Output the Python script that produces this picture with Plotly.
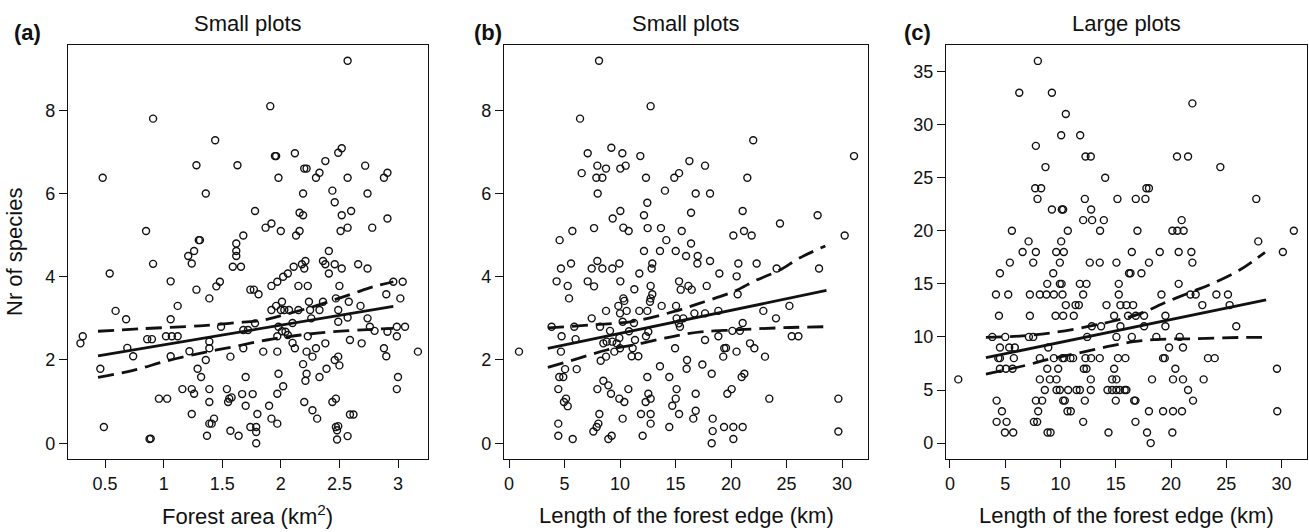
import plotly.graph_objects as go
from plotly.subplots import make_subplots

# panel (a): forest area vs species, small plots
area_x = [2.57, 1.91, 0.91, 1.44, 0.48, 1.28, 1.63, 1.95, 1.96, 2.12,
          2.20, 2.22, 1.98, 2.30, 2.33, 2.38, 2.49, 2.52, 2.57, 2.72,
          2.88, 2.91, 1.36, 2.19, 2.44, 2.46, 2.74, 1.78, 2.16, 2.19,
          2.52, 2.60, 2.91, 0.85, 1.87, 1.92, 2.00, 2.13, 2.16, 2.51,
          2.57, 2.78, 1.68, 1.30, 1.31, 1.62, 1.62, 1.62, 1.26, 1.21,
          0.91, 1.24, 1.59, 1.66, 2.11, 2.18, 2.21, 2.20, 2.36, 2.38,
          2.41, 2.46, 2.52, 2.66, 2.74, 0.54, 1.06, 1.48, 1.45, 1.39,
          1.28, 0.59, 0.68, 1.12, 1.06, 1.02, 1.07, 1.12, 0.29, 0.31,
          0.86, 0.90, 0.69, 0.74, 1.06, 0.46, 1.22, 1.39, 1.39, 1.36,
          1.29, 1.32, 1.49, 1.57, 1.68, 1.68, 1.72, 1.78, 1.74, 1.77,
          1.81, 1.92, 1.97, 2.02, 2.06, 2.15, 2.23, 2.41, 2.50, 2.96,
          3.04, 3.02, 2.90, 2.68, 2.47, 2.36, 2.24, 2.15, 2.07, 2.01,
          2.00, 1.92, 1.96, 2.03, 2.25, 2.33, 2.49, 2.57, 2.49, 2.74,
          2.58, 2.10, 2.06, 2.01, 1.98, 1.97, 2.04, 2.10, 2.12, 2.23,
          2.26, 2.38, 2.27, 2.30, 2.22, 2.19, 2.22, 2.21, 2.33, 2.39,
          2.46, 2.49, 2.50, 2.59, 2.69, 2.76, 2.80, 2.91, 2.88, 2.90,
          2.99, 2.99, 3.06, 3.17, 3.00, 2.99, 2.59, 2.62, 2.57, 2.48,
          2.47, 2.48, 2.49, 2.44, 2.47, 2.31, 2.27, 2.20, 2.02, 1.98,
          1.97, 1.97, 1.92, 1.85, 1.97, 1.90, 1.80, 1.79, 1.79, 1.79,
          1.74, 1.76, 1.70, 1.70, 1.67, 1.64, 1.57, 1.54, 1.56, 1.55,
          1.58, 1.43, 1.39, 1.41, 1.37, 1.39, 1.39, 1.24, 1.26, 1.16,
          1.24, 0.96, 1.03, 0.49, 0.88, 0.89]
area_y = [9.19, 8.10, 7.80, 7.28, 6.38, 6.68, 6.68, 6.90, 6.90, 6.97,
          6.60, 6.60, 6.38, 6.38, 6.50, 6.78, 6.98, 7.09, 6.38, 6.67,
          6.38, 6.50, 6.00, 6.00, 6.07, 5.79, 6.00, 5.58, 5.54, 5.48,
          5.48, 5.58, 5.40, 5.10, 5.18, 5.28, 5.10, 4.99, 5.10, 5.10,
          5.18, 5.18, 4.99, 4.88, 4.88, 4.80, 4.62, 4.50, 4.62, 4.50,
          4.31, 4.32, 4.24, 4.24, 4.24, 4.30, 4.38, 4.20, 4.38, 4.30,
          4.62, 4.30, 4.20, 4.30, 4.20, 4.08, 3.89, 3.88, 3.77, 3.48,
          3.69, 3.18, 2.98, 3.30, 2.98, 2.57, 2.57, 2.57, 2.40, 2.57,
          2.50, 2.50, 2.29, 2.09, 2.09, 1.79, 2.21, 2.44, 2.28, 2.00,
          1.79, 1.59, 2.80, 2.08, 2.28, 2.72, 2.72, 2.88, 3.69, 3.69,
          3.58, 3.78, 3.88, 4.00, 4.08, 3.78, 3.78, 4.08, 3.78, 3.88,
          3.88, 3.48, 3.58, 3.30, 3.48, 3.40, 3.40, 3.20, 3.20, 3.40,
          3.20, 3.20, 3.30, 3.20, 3.20, 3.20, 3.20, 3.02, 2.92, 3.00,
          3.40, 2.89, 2.60, 2.69, 2.80, 2.57, 2.68, 2.41, 2.28, 2.57,
          3.00, 2.40, 2.08, 2.28, 2.20, 1.90, 1.67, 1.50, 1.59, 1.79,
          2.00, 2.08, 1.87, 2.48, 2.40, 2.80, 2.70, 2.68, 2.28, 2.09,
          2.57, 2.80, 2.80, 2.20, 1.59, 1.30, 0.69, 0.69, 0.17, 0.09,
          0.39, 0.31, 0.41, 0.99, 1.07, 0.59, 0.79, 0.99, 1.37, 1.67,
          1.19, 0.47, 0.59, 2.20, 2.20, 0.90, 0.70, 0.39, 0.27, 0.00,
          0.39, 1.18, 0.90, 1.59, 1.18, 0.18, 0.30, 1.30, 1.07, 0.99,
          1.10, 0.59, 0.47, 0.47, 0.18, 0.99, 1.30, 1.30, 1.19, 1.30,
          0.70, 1.07, 1.07, 0.39, 0.10, 0.11]
area_fit_x = [0.44, 2.96]
area_fit_y = [2.10, 3.29]
area_up_x = [0.44, 0.80, 1.31, 1.60, 1.85, 2.02, 2.25, 2.45, 2.62, 2.79, 2.96]
area_up_y = [2.69, 2.75, 2.82, 2.89, 2.96, 3.08, 3.26, 3.44, 3.60, 3.76, 3.88]
area_lo_x = [0.44, 0.74, 1.03, 1.31, 1.60, 1.88, 2.17, 2.45, 2.74, 2.96]
area_lo_y = [1.58, 1.75, 1.98, 2.16, 2.32, 2.48, 2.60, 2.68, 2.73, 2.76]

# panel (b): edge length vs species, small plots
edge_s_x = [8.11, 12.76, 6.40, 22.00, 31.08, 7.09, 9.22, 10.21, 11.83, 6.55,
            7.96, 8.74, 7.87, 8.41, 10.03, 10.51, 12.34, 16.25, 17.66, 14.89,
            15.32, 21.47, 7.99, 14.05, 16.82, 18.11, 12.46, 10.03, 9.34, 12.16,
            16.40, 21.05, 27.80, 24.41, 4.56, 5.71, 7.66, 10.30, 10.78, 12.49,
            13.69, 15.56, 14.17, 16.40, 20.21, 21.17, 21.86, 30.24, 12.16, 13.60,
            15.02, 15.95, 17.00, 16.97, 18.11, 12.91, 12.85, 7.96, 5.59, 4.68,
            7.45, 8.41, 9.31, 9.94, 20.66, 22.31, 24.11, 27.93, 4.29, 5.29,
            5.41, 7.09, 7.66, 10.03, 11.74, 12.76, 12.91, 12.76, 12.70, 11.29,
            10.30, 10.39, 9.85, 8.74, 10.00, 10.60, 11.74, 12.46, 13.75, 15.05,
            15.32, 15.47, 16.16, 16.46, 17.81, 18.95, 20.51, 20.60, 16.70, 17.66,
            18.86, 15.10, 15.30, 15.70, 15.40, 22.91, 24.05, 25.26, 25.47, 26.07,
            7.45, 9.10, 8.20, 8.50, 8.80, 9.31, 9.70, 9.94, 10.81, 10.24,
            11.26, 11.35, 11.14, 10.00, 9.49, 8.74, 8.26, 11.05, 11.65, 12.34,
            12.55, 14.96, 16.04, 16.00, 17.42, 18.26, 18.86, 19.39, 19.55, 19.30,
            20.12, 20.50, 20.80, 21.05, 21.71, 22.10, 23.06, 17.66, 4.74, 4.68,
            6.00, 6.10, 5.05, 4.53, 4.89, 4.44, 5.14, 4.95, 5.29, 4.44,
            4.44, 5.74, 7.60, 7.90, 8.05, 8.14, 7.96, 8.50, 8.95, 9.19,
            9.94, 10.39, 10.75, 10.24, 8.95, 9.25, 12.04, 11.89, 12.31, 12.55,
            12.76, 12.46, 12.76, 12.76, 13.60, 14.44, 15.10, 15.02, 14.71, 15.32,
            14.44, 16.82, 16.82, 16.60, 18.35, 18.35, 18.26, 19.37, 20.21, 20.21,
            21.05, 19.67, 20.06, 20.96, 21.20, 23.45, 29.67, 29.67, 0.90, 3.84,
            5.88]
edge_s_y = [9.19, 8.10, 7.80, 7.28, 6.90, 6.97, 7.10, 6.97, 6.90, 6.49,
            6.67, 6.60, 6.38, 6.38, 6.60, 6.67, 6.38, 6.78, 6.67, 6.38,
            6.49, 6.38, 6.00, 6.07, 6.00, 6.00, 5.78, 5.58, 5.40, 5.48,
            5.54, 5.58, 5.48, 5.28, 4.88, 5.10, 5.17, 5.18, 5.10, 5.17,
            5.17, 5.10, 4.88, 4.80, 4.99, 5.10, 4.99, 4.99, 4.62, 4.62,
            4.62, 4.50, 4.50, 4.32, 4.38, 4.32, 4.20, 4.38, 4.32, 4.20,
            4.20, 4.20, 4.20, 4.32, 4.32, 4.32, 4.20, 4.20, 3.89, 3.78,
            3.48, 3.89, 3.77, 3.89, 4.08, 3.78, 3.58, 3.48, 3.40, 3.70,
            3.48, 3.42, 3.30, 3.18, 3.12, 3.18, 3.18, 3.18, 3.30, 3.30,
            3.89, 3.69, 3.78, 3.69, 3.78, 4.08, 4.01, 3.58, 3.12, 3.12,
            3.18, 3.00, 2.88, 3.00, 2.80, 3.18, 3.00, 3.30, 2.57, 2.57,
            3.00, 2.70, 2.80, 2.40, 2.44, 2.44, 2.40, 2.53, 2.69, 2.92,
            2.89, 2.48, 2.28, 2.28, 2.20, 2.08, 1.98, 2.09, 2.09, 2.57,
            2.68, 2.28, 2.00, 1.79, 1.89, 1.67, 2.57, 2.28, 2.29, 2.08,
            2.70, 2.20, 2.70, 2.89, 2.40, 2.28, 2.08, 2.48, 2.57, 2.20,
            2.50, 1.78, 1.78, 1.59, 1.59, 1.30, 1.07, 0.99, 0.89, 0.47,
            0.18, 0.10, 0.28, 0.39, 0.47, 0.70, 1.30, 1.50, 1.39, 1.19,
            1.07, 0.99, 1.30, 0.59, 0.10, 0.18, 0.18, 0.70, 0.99, 1.19,
            1.07, 1.59, 0.70, 0.47, 1.85, 1.59, 1.30, 1.07, 0.90, 0.70,
            0.39, 1.19, 0.78, 0.59, 0.59, 0.29, 0.00, 0.39, 0.39, 0.10,
            0.39, 1.19, 1.30, 1.59, 1.67, 1.07, 1.07, 0.28, 2.20, 2.80,
            2.80]
edge_s_fit_x = [3.5, 28.6]
edge_s_fit_y = [2.28, 3.67]
edge_s_up_x = [3.5, 7.3, 11.2, 14.8, 17.6, 20.2, 22.3, 24.4, 26.1, 28.5]
edge_s_up_y = [2.77, 2.84, 2.93, 3.16, 3.40, 3.64, 3.92, 4.16, 4.44, 4.74]
edge_s_lo_x = [3.5, 6.4, 8.8, 11.2, 13.6, 15.4, 17.5, 20.2, 22.3, 25.3, 28.6]
edge_s_lo_y = [1.82, 2.05, 2.24, 2.36, 2.50, 2.60, 2.68, 2.72, 2.75, 2.78, 2.80]

# panel (c): edge length vs species, large plots
edge_l_x = [7.95, 6.27, 9.22, 10.48, 10.06, 11.78, 21.93, 7.77, 12.26, 12.74,
            20.54, 21.54, 8.64, 24.46, 14.04, 7.71, 8.25, 7.92, 12.20, 15.15,
            16.81, 17.68, 17.77, 18.00, 27.71, 9.22, 10.12, 10.24, 12.77, 12.05,
            12.86, 13.92, 20.96, 5.60, 10.66, 13.58, 16.96, 20.12, 20.57, 21.14,
            31.11, 7.11, 10.06, 27.89, 6.57, 7.77, 9.61, 10.30, 16.45, 18.98,
            20.69, 21.84, 30.12, 5.42, 7.53, 9.94, 12.65, 13.55, 15.06, 18.00,
            21.93, 4.52, 9.34, 16.20, 16.33, 17.32, 4.16, 5.27, 7.23, 8.13,
            8.73, 9.40, 10.18, 8.80, 9.94, 10.10, 11.75, 12.35, 12.05, 15.27,
            15.27, 19.13, 20.69, 21.75, 22.23, 24.10, 25.15, 25.30, 22.83, 10.48,
            11.36, 11.66, 14.16, 15.42, 15.96, 16.57, 4.43, 7.23, 9.55, 10.24,
            11.20, 14.85, 16.11, 16.81, 17.56, 19.49, 25.90, 12.83, 13.67, 15.42,
            17.56, 19.49, 3.83, 5.00, 7.14, 7.53, 12.41, 15.06, 16.45, 18.67,
            20.78, 4.52, 5.36, 5.87, 8.89, 19.82, 21.08, 4.37, 4.52, 5.78,
            8.13, 9.40, 10.18, 10.33, 10.90, 11.14, 12.26, 12.77, 13.55, 15.20,
            15.87, 19.28, 19.43, 23.34, 23.95, 4.52, 5.06, 5.66, 8.80, 9.79,
            12.11, 12.35, 14.85, 20.39, 29.58, 0.75, 8.13, 9.04, 9.64, 12.74,
            14.67, 15.06, 18.28, 20.18, 21.08, 22.95, 8.58, 9.64, 9.94, 10.69,
            11.45, 11.75, 12.74, 14.25, 14.67, 15.06, 15.36, 15.81, 15.96, 21.54,
            4.22, 7.77, 8.34, 10.24, 10.39, 12.20, 15.00, 16.66, 16.78, 21.99,
            4.70, 7.98, 10.63, 10.93, 18.00, 19.28, 20.18, 20.99, 29.61, 4.22,
            5.12, 7.59, 7.89, 12.05, 16.78, 4.97, 5.72, 8.83, 9.10, 14.34,
            17.83, 20.12, 18.16]
edge_l_y = [36, 33, 33, 31, 29, 29, 32, 28, 27, 27,
            27, 27, 26, 26, 25, 24, 24, 23, 23, 23,
            23, 23, 24, 24, 23, 22, 22, 22, 22, 21,
            21, 21, 21, 20, 20, 20, 20, 20, 20, 20,
            20, 19, 19, 19, 18, 18, 18, 18, 18, 18,
            18, 18, 18, 17, 17, 17, 17, 17, 17, 17,
            17, 16, 16, 16, 16, 16, 14, 14, 14, 14,
            14, 14, 14, 15, 15, 15, 15, 15, 14, 15,
            14, 14, 15, 14, 14, 14, 14, 13, 13, 13,
            13, 13, 13, 13, 13, 13, 12, 12, 12, 12,
            12, 12, 12, 12, 12, 12, 11, 11, 11, 11,
            11, 11, 10, 10, 10, 10, 10, 10, 10, 10,
            10, 9, 9, 9, 9, 9, 9, 8, 8, 8,
            8, 8, 8, 8, 8, 8, 8, 8, 8, 8,
            8, 8, 8, 8, 8, 7, 7, 7, 7, 7,
            7, 7, 7, 7, 7, 6, 6, 6, 6, 6,
            6, 6, 6, 6, 6, 6, 5, 5, 5, 5,
            5, 5, 5, 5, 5, 5, 5, 5, 5, 5,
            4, 4, 4, 4, 4, 4, 4, 4, 4, 4,
            3, 3, 3, 3, 3, 3, 3, 3, 3, 2,
            2, 2, 2, 2, 2, 1, 1, 1, 1, 1,
            1, 1, 0]
edge_l_fit_x = [3.25, 28.6]
edge_l_fit_y = [8.04, 13.48]
edge_l_up_x = [3.25, 6.3, 9.3, 12.4, 14.8, 17.2, 19.6, 22.0, 23.8, 26.2, 28.5]
edge_l_up_y = [9.96, 10.08, 10.40, 10.96, 11.50, 12.20, 13.30, 14.30, 15.05, 16.30, 17.97]
edge_l_lo_x = [3.25, 6.6, 9.3, 11.7, 14.2, 16.6, 19.0, 22.0, 26.8, 28.6]
edge_l_lo_y = [6.50, 7.26, 7.98, 8.50, 9.08, 9.55, 9.77, 9.83, 9.96, 9.96]

W, H = 1309, 532
FONT = "Liberation Sans, Arial, sans-serif"
INK = "#111111"

fig = make_subplots(rows=1, cols=3)

panels = [
    (area_x, area_y, area_fit_x, area_fit_y, area_up_x, area_up_y, area_lo_x, area_lo_y),
    (edge_s_x, edge_s_y, edge_s_fit_x, edge_s_fit_y, edge_s_up_x, edge_s_up_y, edge_s_lo_x, edge_s_lo_y),
    (edge_l_x, edge_l_y, edge_l_fit_x, edge_l_fit_y, edge_l_up_x, edge_l_up_y, edge_l_lo_x, edge_l_lo_y),
]
for i, (px, py, fx, fy, ux, uy, lx, ly) in enumerate(panels, start=1):
    fig.add_trace(go.Scatter(x=px, y=py, mode="markers",
                             marker=dict(symbol="circle-open", size=7, color=INK, line=dict(width=1.4))),
                  row=1, col=i)
    fig.add_trace(go.Scatter(x=fx, y=fy, mode="lines", line=dict(color=INK, width=2.8)), row=1, col=i)
    for bx, by in ((ux, uy), (lx, ly)):
        fig.add_trace(go.Scatter(x=bx, y=by, mode="lines", line_shape="spline",
                                 line=dict(color=INK, width=2.8, dash="16px,8px")), row=1, col=i)

# plot boxes in pixels (left, right), shared top/bottom
boxes = [(68, 428), (504, 868), (946, 1307)]
top, bottom = 45, 459
xranges = [[0.184, 3.256], [-0.45, 32.34], [-0.36, 32.3]]
yranges = [[-0.38, 9.57], [-0.38, 9.57], [-1.5, 37.5]]
xticks = [[0.5, 1, 1.5, 2, 2.5, 3], [0, 5, 10, 15, 20, 25, 30], [0, 5, 10, 15, 20, 25, 30]]
xticktext = [["0.5", "1", "1.5", "2", "2.5", "3"], None, None]
yticks = [[0, 2, 4, 6, 8], [0, 2, 4, 6, 8], [0, 5, 10, 15, 20, 25, 30, 35]]

axis_style = dict(showline=True, mirror=True, linecolor=INK, linewidth=1.2, showgrid=False,
                  zeroline=False, ticks="outside", ticklen=8, tickwidth=1, tickcolor=INK,
                  tickfont=dict(family=FONT, size=18, color=INK))
for i in range(3):
    sfx = "" if i == 0 else str(i + 1)
    l, r = boxes[i]
    xa = dict(axis_style, domain=[l / W, r / W], range=xranges[i], tickvals=xticks[i])
    if xticktext[i]:
        xa["ticktext"] = xticktext[i]
    fig.update_layout(**{
        "xaxis" + sfx: xa,
        "yaxis" + sfx: dict(axis_style, domain=[1 - bottom / H, 1 - top / H],
                            range=yranges[i], tickvals=yticks[i]),
    })

titles = ["Small plots", "Small plots", "Large plots"]
letters = ["(a)", "(b)", "(c)"]
letter_x = [12, 472, 902]
xtitles = ["Forest area (km<sup>2</sup>)", "Length of the forest edge (km)", "Length of the forest edge (km)"]
notes = []
for i in range(3):
    l, r = boxes[i]
    c = (l + r) / 2
    notes.append(dict(x=c / W, y=1 - 23 / H, text=titles[i], font=dict(size=22)))
    notes.append(dict(x=letter_x[i] / W, y=1 - 32 / H, text="<b>" + letters[i] + "</b>",
                      xanchor="left", font=dict(size=22)))
    notes.append(dict(x=c / W, y=1 - 515 / H, text=xtitles[i], font=dict(size=22)))
notes.append(dict(x=15 / W, y=1 - 252 / H, text="Nr of species", textangle=-90, font=dict(size=22)))
for n in notes:
    n.setdefault("xanchor", "center")
    n.update(xref="paper", yref="paper", yanchor="middle", showarrow=False)
    n["font"] = dict(family=FONT, color=INK, **n["font"])

fig.update_layout(width=W, height=H, margin=dict(l=0, r=0, t=0, b=0),
                  paper_bgcolor="white", plot_bgcolor="white", showlegend=False,
                  annotations=notes)

fig.write_html("out.html", config={"displayModeBar": False},
               post_script="document.body.style.margin='0';document.body.style.overflow='hidden';")
